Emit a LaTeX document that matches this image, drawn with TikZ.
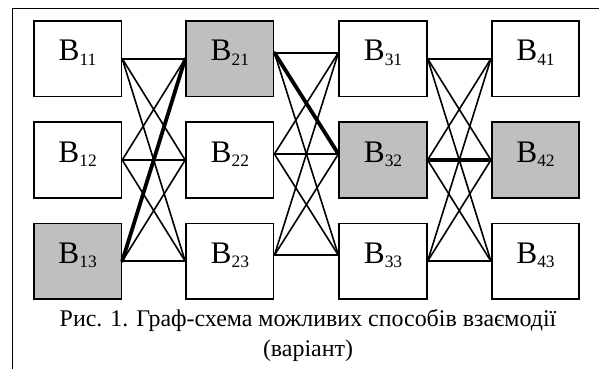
\documentclass[tikz,border=0pt]{standalone}
\usepackage{fontspec}
\setmainfont{Liberation Serif}
\begin{document}
\begin{tikzpicture}[x=1bp,y=-1bp,
  vbox/.style={draw=black,line width=1.7bp,minimum width=87.5bp,minimum height=75.7bp,
    inner sep=0pt,text height=14bp,text depth=10bp,font=\fontsize{31.5}{31.5}\selectfont},
  hit/.style={vbox,fill=black!25},
  link/.style={line width=1.6bp,line cap=round},
  mainlink/.style={line width=3.8bp,line cap=round},
  caption/.style={anchor=base,inner sep=0pt,font=\fontsize{24}{28}\selectfont}]
\useasboundingbox (0,0) rectangle (599,369);
\newcommand{\vlabel}[2]{B\raisebox{-4.3bp}{\fontsize{17.5}{17.5}\selectfont #1#2}}

% outer frame (only top and left edges lie inside the page)
\draw[line width=1.2bp] (12.7,369) -- (12.7,8.7) -- (599,8.7);

% vertices
\foreach \c/\x in {1/77.6,2/229.8,3/383,4/535.5}{
  \foreach \r/\y in {1/58.7,2/160,3/261.2}{
    \node[vbox] (b\c\r) at (\x,\y) {\vlabel{\c}{\r}};
  }
}
% highlighted vertices of the chosen path
\foreach \c/\r in {1/3,2/1,3/2,4/2}{
  \node[hit] at (b\c\r) {\vlabel{\c}{\r}};
}

% all admissible transitions between neighbouring stages
\foreach \i in {1,2,3}{
  \foreach \j in {1,2,3}{
    \draw[link] (b1\i.east) -- (b2\j.west);
    \draw[link] ([yshift=6bp]b2\i.east) -- ([yshift=6bp]b3\j.west);
    \draw[link] (b3\i.east) -- (b4\j.west);
  }
}

% chosen path
\draw[mainlink] (b13.east) -- (b21.west);
\draw[mainlink] ([yshift=6bp]b21.east) -- ([yshift=6bp]b32.west);
\draw[mainlink] (b32.east) -- (b42.west);

% caption
\node[caption] (cap1) at (308,326) {Рис. 1. Граф-схема можливих способів взаємодії};
\node[caption] (cap2) at (308,356) {(варіант)};
\end{tikzpicture}
\end{document}
